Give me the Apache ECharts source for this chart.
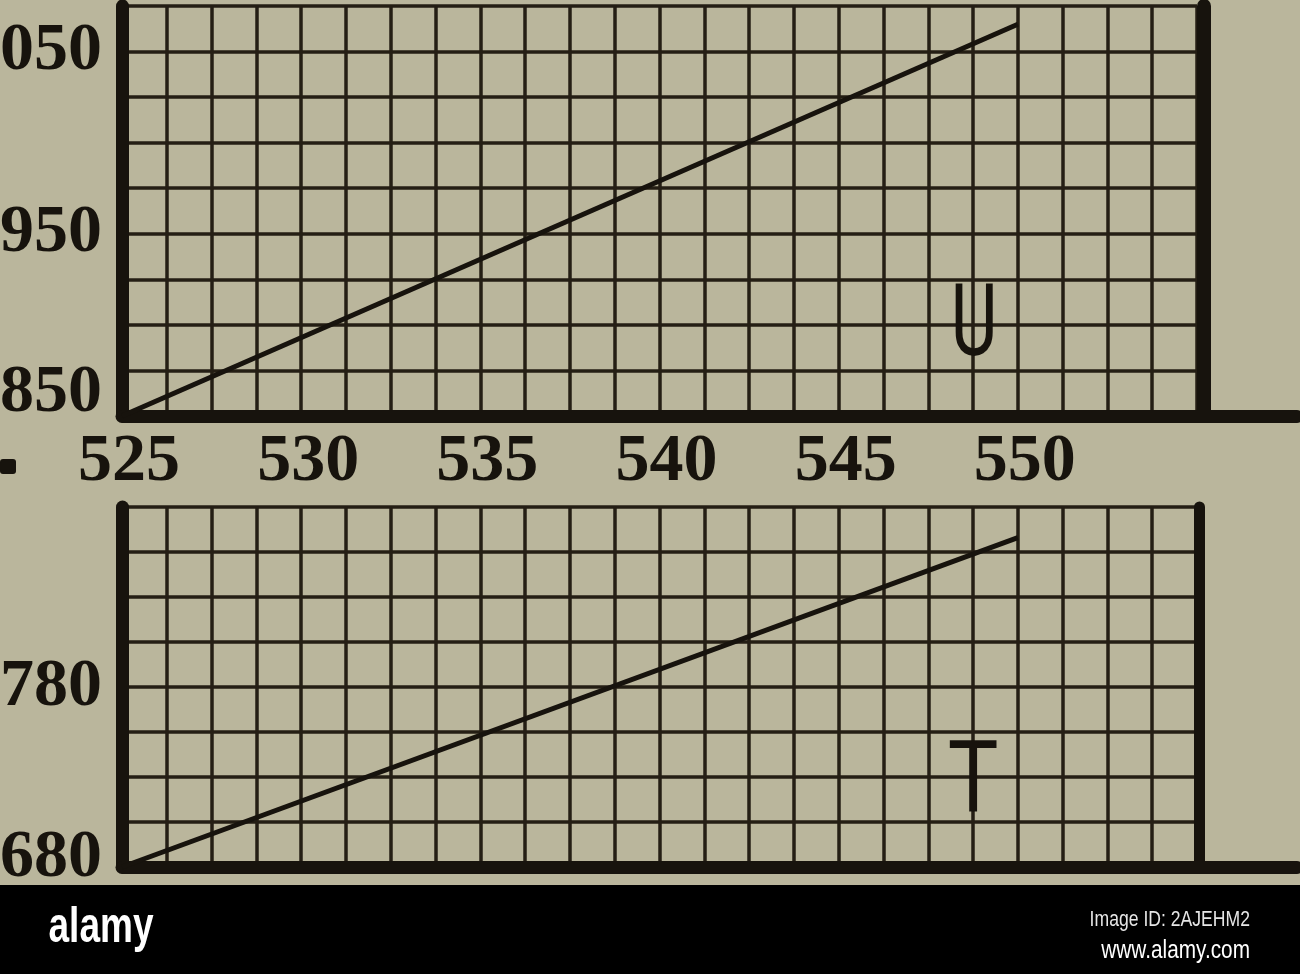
<!DOCTYPE html>
<html>
<head>
<meta charset="utf-8">
<script src="https://cdn.jsdelivr.net/npm/echarts@6/dist/echarts.min.js"></script>
<style>
html,body{margin:0;padding:0;background:#bab69c;}
#chart{width:1300px;height:974px;}
</style>
</head>
<body>
<div id="chart"></div>
<script>
// ---- data ----
const xRange = [525, 555];
const xStep = 1.25;
const xTickLabels = [525, 530, 535, 540, 545, 550];

const uRange = [850, 1075];
const uTickLabels = [850, 950, 1050];
const tRange = [680, 880];
const tTickLabels = [680, 780];
const yStep = 25;

const xValues = [525, 550];
const uValues = [850, 1065];
const tValues = [680, 863];

const seriesNames = ['U', 'T'];

// ---- styles ----
const ink = '#17130d';
const gridInk = '#241e14';
const paper = '#bab69c';
const labelFont = { fontFamily: '"Liberation Serif", "DejaVu Serif", serif', fontSize: 68, fontWeight: 'bold', color: ink };

function yLabelFmt(list) {
  return function (v) {
    if (!list.includes(v)) return '';
    return (v === list[0] ? '{lo|' : '{n|') + v + '}';
  };
}
function yRich(lift) {
  return {
    n: Object.assign({}, labelFont),
    lo: Object.assign({}, labelFont, { padding: [0, 0, lift, 0] })
  };
}

const gridBase = { outerBoundsMode: 'none', containLabel: false };

const chart = echarts.init(document.getElementById('chart'), null, { renderer: 'canvas' });

const splitStyle = { show: true, lineStyle: { color: gridInk, width: 3.5 } };

chart.setOption({
  backgroundColor: paper,
  animation: false,
  grid: [
    Object.assign({ left: 122, top: 6, width: 1075, height: 410 }, gridBase),
    Object.assign({ left: 122, top: 6, width: 1175, height: 410 }, gridBase),
    Object.assign({ left: 122, top: 507, width: 1075, height: 360 }, gridBase),
    Object.assign({ left: 122, top: 507, width: 1175, height: 360 }, gridBase)
  ],
  xAxis: [
    {
      gridIndex: 0, type: 'value', min: xRange[0], max: xRange[1], interval: xStep,
      axisLine: { show: false }, axisTick: { show: false },
      splitLine: splitStyle,
      axisLabel: {
        margin: 12,
        padding: [0, 0, 0, 14],
        formatter: v => xTickLabels.includes(v) ? String(v) : '',
        fontFamily: labelFont.fontFamily, fontSize: labelFont.fontSize, fontWeight: labelFont.fontWeight, color: ink
      }
    },
    {
      gridIndex: 1, type: 'value', min: 0, max: 1, offset: 4,
      axisLine: { show: true, lineStyle: { color: ink, width: 13 } },
      axisTick: { show: false }, axisLabel: { show: false }, splitLine: { show: false }
    },
    {
      gridIndex: 2, type: 'value', min: xRange[0], max: xRange[1], interval: xStep,
      axisLine: { show: false }, axisTick: { show: false },
      splitLine: splitStyle, axisLabel: { show: false }
    },
    {
      gridIndex: 3, type: 'value', min: 0, max: 1, offset: 3,
      axisLine: { show: true, lineStyle: { color: ink, width: 13 } },
      axisTick: { show: false }, axisLabel: { show: false }, splitLine: { show: false }
    }
  ],
  yAxis: [
    {
      gridIndex: 0, type: 'value', min: uRange[0], max: uRange[1], interval: yStep,
      axisLine: { show: true, lineStyle: { color: ink, width: 13 } },
      axisTick: { show: false },
      splitLine: splitStyle,
      axisLabel: { margin: 20, formatter: yLabelFmt(uTickLabels), rich: yRich(46) }
    },
    {
      gridIndex: 0, type: 'value', min: uRange[0], max: uRange[1], position: 'right', offset: 7,
      axisLine: { show: true, lineStyle: { color: ink, width: 14 } },
      axisTick: { show: false }, axisLabel: { show: false }, splitLine: { show: false }
    },
    { gridIndex: 1, type: 'value', show: false, min: 0, max: 1 },
    {
      gridIndex: 2, type: 'value', min: tRange[0], max: tRange[1], interval: yStep,
      axisLine: { show: true, lineStyle: { color: ink, width: 13 } },
      axisTick: { show: false },
      splitLine: splitStyle,
      axisLabel: { margin: 20, formatter: yLabelFmt(tTickLabels), rich: yRich(18) }
    },
    {
      gridIndex: 2, type: 'value', min: tRange[0], max: tRange[1], position: 'right', offset: 2,
      axisLine: { show: true, lineStyle: { color: ink, width: 11 } },
      axisTick: { show: false }, axisLabel: { show: false }, splitLine: { show: false }
    },
    { gridIndex: 3, type: 'value', show: false, min: 0, max: 1 }
  ],
  series: [
    {
      name: seriesNames[0], type: 'line', xAxisIndex: 0, yAxisIndex: 0,
      data: xValues.map((x, i) => [x, uValues[i]]),
      symbol: 'none', lineStyle: { color: ink, width: 5 }, z: 10
    },
    {
      name: seriesNames[1], type: 'line', xAxisIndex: 2, yAxisIndex: 3,
      data: xValues.map((x, i) => [x, tValues[i]]),
      symbol: 'none', lineStyle: { color: ink, width: 5 }, z: 10
    }
  ],
  graphic: [
    { type: 'text', x: 974, y: 330, scaleX: 0.72, z: 20,
      style: { text: seriesNames[0], fill: ink, font: '400 100px Roboto, "DejaVu Sans", sans-serif', textAlign: 'center', textVerticalAlign: 'middle' } },
    { type: 'text', x: 973, y: 787, scaleX: 0.85, z: 20,
      style: { text: seriesNames[1], fill: ink, font: '400 100px Roboto, "DejaVu Sans", sans-serif', textAlign: 'center', textVerticalAlign: 'middle' } },
    { type: 'rect', shape: { x: 0, y: 459, width: 16, height: 15, r: 3 }, style: { fill: ink } },
    { type: 'rect', shape: { x: 0, y: 885, width: 1300, height: 89 }, style: { fill: '#000' }, z: 30 },
    { type: 'text', x: 101, y: 928, scaleX: 0.74, z: 31,
      style: { text: 'alamy', fill: '#fff', font: 'bold 50px "Liberation Sans", Arial, sans-serif', textAlign: 'center', textVerticalAlign: 'middle' } },
    { type: 'text', x: 1250, y: 920, scaleX: 0.8, z: 31,
      style: { text: 'Image ID: 2AJEHM2', fill: '#e6e6e6', font: '22px "Liberation Sans", Arial, sans-serif', textAlign: 'right', textVerticalAlign: 'middle' } },
    { type: 'text', x: 1250, y: 951, scaleX: 0.8, z: 31,
      style: { text: 'www.alamy.com', fill: '#ffffff', font: '26px "Liberation Sans", Arial, sans-serif', textAlign: 'right', textVerticalAlign: 'middle' } }
  ]
});
</script>
</body>
</html>
